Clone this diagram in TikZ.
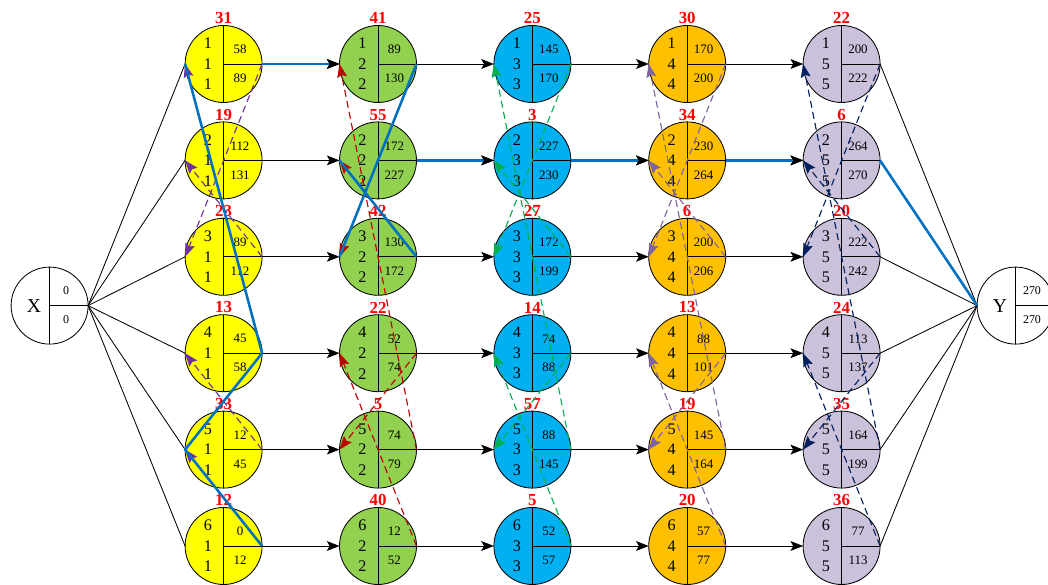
\documentclass[tikz,border=0pt]{standalone}
\usepackage{fontspec}
\setmainfont{Liberation Serif}
\usetikzlibrary{arrows.meta}

\definecolor{cyel}{HTML}{FFFF00}
\definecolor{cgrn}{HTML}{92D050}
\definecolor{ccya}{HTML}{00B0F0}
\definecolor{cora}{HTML}{FFC000}
\definecolor{clav}{HTML}{CCC1DA}
\definecolor{kpur}{HTML}{7030A0}
\definecolor{kred}{HTML}{C00000}
\definecolor{kgrn}{HTML}{00B050}
\definecolor{kvio}{HTML}{8064A2}
\definecolor{knav}{HTML}{002060}
\definecolor{kblu}{HTML}{0070C0}

% name, position, fill, label, left column, top time, bottom time
\newcommand{\jobnode}[7]{%
	\node[job, fill=#3, label={[num]above:#4}] (#1) at (#2) {};
	\draw[link] (#1.north) -- (#1.south) (#1.center) -- (#1.east);
	\node[ops] at ([xshift=-0.39cm]#1.center) {#5};
	\node[tim] at ([xshift=0.41cm, yshift=0.36cm]#1.center) {#6};
	\node[tim] at ([xshift=0.41cm, yshift=-0.36cm]#1.center) {#7};
}

\begin{document}
\begin{tikzpicture}[
		job/.style = {circle, draw, line width = 0.6pt, minimum size = 1.925cm, inner sep = 0pt, outer sep = 0pt},
		num/.style = {text = red, font = \fontsize{12}{14}\selectfont\bfseries, inner sep = 0pt, label distance = 1pt},
		ops/.style = {font = \fontsize{11.5}{14.6}\selectfont, align = center, inner sep = 0pt},
		tim/.style = {font = \fontsize{9.2}{10}\selectfont, inner sep = 0pt},
		link/.style = {line width = 0.6pt},
		flow/.style = {line width = 0.6pt, -{Stealth[length = 9pt, width = 7pt, inset = 2pt, color = black, line width = 0.6pt]}},
		crit/.style = {draw = kblu, line width = 1.8pt, line join = round},
		order/.style = {draw = #1, line width = 0.8pt, dash pattern = on 5pt off 3pt, -{Stealth[length = 9.5pt, width = 7pt, inset = 1.5pt, line width = 0.6pt]}}]
		\useasboundingbox (0, 0) rectangle (26.2, 14.6);
		%%%%%%%%%%%%%
		\node[job] (X) at (1.24, 6.96) {};
		\draw[link] (X.north) -- (X.south) (X.center) -- (X.east);
		\node[font = \fontsize{14}{16}\selectfont] at ([xshift = -0.39cm]X.center) {X};
		\node[tim, font = \fontsize{8.5}{10}\selectfont] at ([xshift = 0.41cm, yshift = 0.37cm]X.center) {0};
		\node[tim, font = \fontsize{8.5}{10}\selectfont] at ([xshift = 0.41cm, yshift = -0.35cm]X.center) {0};
		\node[job] (Y) at (25.39, 6.96) {};
		\draw[link] (Y.north) -- (Y.south) (Y.center) -- (Y.east);
		\node[font = \fontsize{14}{16}\selectfont] at ([xshift = -0.39cm]Y.center) {Y};
		\node[tim, font = \fontsize{8.5}{10}\selectfont] at ([xshift = 0.41cm, yshift = 0.37cm]Y.center) {270};
		\node[tim, font = \fontsize{8.5}{10}\selectfont] at ([xshift = 0.41cm, yshift = -0.35cm]Y.center) {270};
		%%%%%%%%%%%%%
		\jobnode{a1}{5.59, 13.00}{cyel}{31}{1\\1\\1}{58}{89}
		\jobnode{a2}{5.59, 10.59}{cyel}{19}{2\\1\\1}{112}{131}
		\jobnode{a3}{5.59, 8.18}{cyel}{23}{3\\1\\1}{89}{112}
		\jobnode{a4}{5.59, 5.77}{cyel}{13}{4\\1\\1}{45}{58}
		\jobnode{a5}{5.59, 3.36}{cyel}{33}{5\\1\\1}{12}{45}
		\jobnode{a6}{5.59, 0.95}{cyel}{12}{6\\1\\1}{0}{12}
		%%%%%%%%%%%%%
		\jobnode{b1}{9.45, 13.00}{cgrn}{41}{1\\2\\2}{89}{130}
		\jobnode{b2}{9.45, 10.59}{cgrn}{55}{2\\2\\2}{172}{227}
		\jobnode{b3}{9.45, 8.18}{cgrn}{42}{3\\2\\2}{130}{172}
		\jobnode{b4}{9.45, 5.77}{cgrn}{22}{4\\2\\2}{52}{74}
		\jobnode{b5}{9.45, 3.36}{cgrn}{5}{5\\2\\2}{74}{79}
		\jobnode{b6}{9.45, 0.95}{cgrn}{40}{6\\2\\2}{12}{52}
		%%%%%%%%%%%%%
		\jobnode{c1}{13.31, 13.00}{ccya}{25}{1\\3\\3}{145}{170}
		\jobnode{c2}{13.31, 10.59}{ccya}{3}{2\\3\\3}{227}{230}
		\jobnode{c3}{13.31, 8.18}{ccya}{27}{3\\3\\3}{172}{199}
		\jobnode{c4}{13.31, 5.77}{ccya}{14}{4\\3\\3}{74}{88}
		\jobnode{c5}{13.31, 3.36}{ccya}{57}{5\\3\\3}{88}{145}
		\jobnode{c6}{13.31, 0.95}{ccya}{5}{6\\3\\3}{52}{57}
		%%%%%%%%%%%%%
		\jobnode{d1}{17.18, 13.00}{cora}{30}{1\\4\\4}{170}{200}
		\jobnode{d2}{17.18, 10.59}{cora}{34}{2\\4\\4}{230}{264}
		\jobnode{d3}{17.18, 8.18}{cora}{6}{3\\4\\4}{200}{206}
		\jobnode{d4}{17.18, 5.77}{cora}{13}{4\\4\\4}{88}{101}
		\jobnode{d5}{17.18, 3.36}{cora}{19}{5\\4\\4}{145}{164}
		\jobnode{d6}{17.18, 0.95}{cora}{20}{6\\4\\4}{57}{77}
		%%%%%%%%%%%%%
		\jobnode{e1}{21.04, 13.00}{clav}{22}{1\\5\\5}{200}{222}
		\jobnode{e2}{21.04, 10.59}{clav}{6}{2\\5\\5}{264}{270}
		\jobnode{e3}{21.04, 8.18}{clav}{20}{3\\5\\5}{222}{242}
		\jobnode{e4}{21.04, 5.77}{clav}{24}{4\\5\\5}{113}{137}
		\jobnode{e5}{21.04, 3.36}{clav}{35}{5\\5\\5}{164}{199}
		\jobnode{e6}{21.04, 0.95}{clav}{36}{6\\5\\5}{77}{113}
		%%%%%%%%%%%%%
		\draw[link] (X.east) -- (a1.west); \draw[link] (X.east) -- (a2.west); \draw[link] (X.east) -- (a3.west);
		\draw[link] (X.east) -- (a4.west); \draw[link] (X.east) -- (a5.west); \draw[link] (X.east) -- (a6.west);
		\draw[link] (e1.east) -- (Y.west); \draw[link] (e2.east) -- (Y.west); \draw[link] (e3.east) -- (Y.west);
		\draw[link] (e4.east) -- (Y.west); \draw[link] (e5.east) -- (Y.west); \draw[link] (e6.east) -- (Y.west);
		%%%%%%%%%%%%%
		\draw[flow] (a1) -- (b1); \draw[flow] (b1) -- (c1); \draw[flow] (c1) -- (d1); \draw[flow] (d1) -- (e1);
		\draw[flow] (a2) -- (b2); \draw[flow] (b2) -- (c2); \draw[flow] (c2) -- (d2); \draw[flow] (d2) -- (e2);
		\draw[flow] (a3) -- (b3); \draw[flow] (b3) -- (c3); \draw[flow] (c3) -- (d3); \draw[flow] (d3) -- (e3);
		\draw[flow] (a4) -- (b4); \draw[flow] (b4) -- (c4); \draw[flow] (c4) -- (d4); \draw[flow] (d4) -- (e4);
		\draw[flow] (a5) -- (b5); \draw[flow] (b5) -- (c5); \draw[flow] (c5) -- (d5); \draw[flow] (d5) -- (e5);
		\draw[flow] (a6) -- (b6); \draw[flow] (b6) -- (c6); \draw[flow] (c6) -- (d6); \draw[flow] (d6) -- (e6);
		%%%%%%%%%%%%%
		\draw[order = kpur] (a6.east) -- (a5.west); \draw[order = kpur] (a5.east) -- (a4.west);
		\draw[order = kpur] (a4.east) -- (a1.west); \draw[order = kpur] (a1.east) -- (a3.west);
		\draw[order = kpur] (a3.east) -- (a2.west);
		\draw[order = kred] (b6.east) -- (b4.west); \draw[order = kred] (b4.east) -- (b5.west);
		\draw[order = kred] (b5.east) -- (b1.west); \draw[order = kred] (b1.east) -- (b3.west);
		\draw[order = kred] (b3.east) -- (b2.west);
		\draw[order = kgrn] (c6.east) -- (c4.west); \draw[order = kgrn] (c4.east) -- (c5.west);
		\draw[order = kgrn] (c5.east) -- (c1.west); \draw[order = kgrn] (c1.east) -- (c3.west);
		\draw[order = kgrn] (c3.east) -- (c2.west);
		\draw[order = kvio] (d6.east) -- (d4.west); \draw[order = kvio] (d4.east) -- (d5.west);
		\draw[order = kvio] (d5.east) -- (d1.west); \draw[order = kvio] (d1.east) -- (d3.west);
		\draw[order = kvio] (d3.east) -- (d2.west);
		\draw[order = knav] (e6.east) -- (e4.west); \draw[order = knav] (e4.east) -- (e5.west);
		\draw[order = knav] (e5.east) -- (e1.west); \draw[order = knav] (e1.east) -- (e3.west);
		\draw[order = knav] (e3.east) -- (e2.west);
		%%%%%%%%%%%%%
		\draw[crit] (a6.east) -- (a5.west) -- (a4.east) -- (a1.west);
		\draw[crit, flow, line width = 1.8pt] (a1.east) -- (b1.west);
		\draw[crit] (b1.east) -- (b3.west); \draw[crit] (b3.east) -- (b2.west);
		\draw[crit, flow, line width = 1.8pt] (b2.east) -- (c2.west);
		\draw[crit, flow, line width = 1.8pt] (c2.east) -- (d2.west);
		\draw[crit, flow, line width = 1.8pt] (d2.east) -- (e2.west);
		\draw[crit] (e2.east) -- (Y.west);
\end{tikzpicture}
\end{document}
